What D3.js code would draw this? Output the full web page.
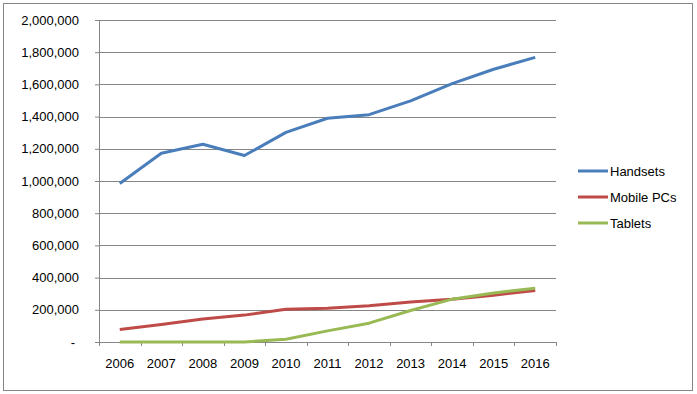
<!DOCTYPE html>
<html>
<head>
<meta charset="utf-8">
<script src="https://cdn.jsdelivr.net/npm/d3@7"></script>
<style>
  body { margin: 0; background: #fff; }
  text { font-family: "Liberation Sans", Arial, sans-serif; fill: #000; }
</style>
</head>
<body>
<div id="chart"></div>
<script>
// data
const years = ["2006","2007","2008","2009","2010","2011","2012","2013","2014","2015","2016"]
const handsets  = [985000, 1172000, 1228000, 1158000, 1302000, 1390000, 1412000, 1498000, 1605000, 1694000, 1768000]
const mobilePCs = [78000, 108000, 143000, 167000, 204000, 210000, 225000, 249000, 266000, 291000, 320000]
const tablets   = [0, 0, 0, 0, 17000, 69000, 117000, 196000, 266000, 305000, 334000]
const yTicks = [0, 200000, 400000, 600000, 800000, 1000000, 1200000, 1400000, 1600000, 1800000, 2000000]

const seriesNames = ["Handsets", "Mobile PCs", "Tablets"]
const seriesColors = ["#4a7ebb", "#be4b48", "#98b954"]
const seriesValues = [handsets, mobilePCs, tablets]

const width = 697, height = 394
const margin = { top: 20, left: 99, right: 141, bottom: 52 }
const plotW = width - margin.left - margin.right
const plotH = height - margin.top - margin.bottom

const svg = d3.select("#chart").append("svg")
  .attr("width", width)
  .attr("height", height)

// outer chart border
svg.append("rect")
  .attr("x", 3.5).attr("y", 3.5)
  .attr("width", 689).attr("height", 387)
  .attr("fill", "#fff")
  .attr("stroke", "#868686")

const g = svg.append("g")
  .attr("transform", "translate(" + margin.left + "," + margin.top + ")")

const x = d3.scaleBand().domain(years).range([0, plotW])
const y = d3.scaleLinear().domain([0, 2000000]).range([plotH, 0])

// gridlines
g.append("g")
  .selectAll("line")
  .data(yTicks.filter(d => d > 0))
  .join("line")
    .attr("x1", 0).attr("x2", plotW)
    .attr("y1", d => Math.round(y(d)) + 0.5)
    .attr("y2", d => Math.round(y(d)) + 0.5)
    .attr("stroke", "#868686")

// y axis
const yAxis = g.append("g")
  .call(d3.axisLeft(y).tickValues(yTicks).tickSize(4).tickPadding(16)
    .tickFormat(d => d === 0 ? "-" : d3.format(",")(d)))
yAxis.select(".domain").attr("stroke", "#868686")
yAxis.selectAll(".tick line").attr("stroke", "#868686")
yAxis.selectAll("text").attr("font-size", 13)
yAxis.selectAll(".tick").filter(d => d === 0).select("text").attr("dx", -4)

// x axis, ticks at band edges like Excel
const xAxis = g.append("g")
  .attr("transform", "translate(0," + plotH + ")")
  .call(d3.axisBottom(x).tickSize(0).tickPadding(17))
xAxis.select(".domain").attr("stroke", "#868686")
xAxis.selectAll("text").attr("font-size", 13)
g.append("g")
  .selectAll("line")
  .data(years.concat(["end"]))
  .join("line")
    .attr("x1", (d, i) => Math.round(i * x.bandwidth()) + 0.5)
    .attr("x2", (d, i) => Math.round(i * x.bandwidth()) + 0.5)
    .attr("y1", plotH).attr("y2", plotH + 4)
    .attr("stroke", "#868686")

// lines
const line = d3.line()
  .x((d, i) => x(years[i]) + x.bandwidth() / 2)
  .y(d => y(d))

seriesValues.forEach(function(vals, k) {
  g.append("path")
    .datum(vals)
    .attr("fill", "none")
    .attr("stroke", seriesColors[k])
    .attr("stroke-width", 3)
    .attr("stroke-linejoin", "round")
    .attr("d", line)
})

// legend
const legend = svg.append("g").attr("transform", "translate(578,171)")
seriesNames.forEach(function(name, k) {
  legend.append("line")
    .attr("x1", 0).attr("x2", 30)
    .attr("y1", k * 26).attr("y2", k * 26)
    .attr("stroke", seriesColors[k])
    .attr("stroke-width", 3)
  legend.append("text")
    .attr("x", 32).attr("y", k * 26)
    .attr("dy", "0.35em")
    .attr("font-size", 13)
    .text(name)
})
</script>
</body>
</html>
